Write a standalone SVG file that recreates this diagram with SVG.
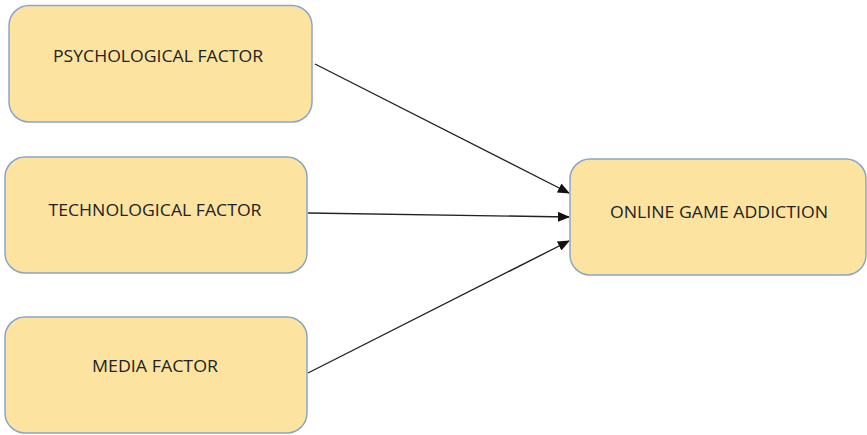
<svg xmlns="http://www.w3.org/2000/svg" width="867" height="435" viewBox="0 0 867 435">
<style>
.box{fill:#FCE3A0;stroke:#8AA6C6;stroke-width:1.5}
.lbl{font-family:"Open Sans","Liberation Sans",Arial,sans-serif;font-size:16px;fill:#222;text-anchor:middle;dominant-baseline:central}
.con{stroke:#222;stroke-width:1.4;fill:none;marker-end:url(#ah)}
</style>
<defs>
<marker id="ah" markerWidth="12" markerHeight="10" refX="11" refY="5" orient="auto" markerUnits="userSpaceOnUse">
<path d="M0,0 L12,5 L0,10 Z" fill="#111"/>
</marker>
</defs>
<rect width="867" height="435" fill="#fff"/>
<g id="connectors">
<line class="con" x1="315" y1="64" x2="569" y2="193"/>
<line class="con" x1="308" y1="213" x2="569" y2="217"/>
<line class="con" x1="308" y1="373" x2="569" y2="241"/>
</g>
<g id="psychological">
<rect class="box" x="9" y="5.5" width="303" height="116.5" rx="20"/>
<text class="lbl" x="158" y="56" textLength="210" lengthAdjust="spacingAndGlyphs">PSYCHOLOGICAL FACTOR</text>
</g>
<g id="technological">
<rect class="box" x="5" y="157" width="302" height="116" rx="20"/>
<text class="lbl" x="155" y="210" textLength="213" lengthAdjust="spacingAndGlyphs">TECHNOLOGICAL FACTOR</text>
</g>
<g id="media">
<rect class="box" x="5" y="317" width="302" height="116" rx="20"/>
<text class="lbl" x="155" y="366" textLength="126" lengthAdjust="spacingAndGlyphs">MEDIA FACTOR</text>
</g>
<g id="addiction">
<rect class="box" x="570" y="159" width="296" height="116" rx="20"/>
<text class="lbl" x="719" y="212" textLength="218" lengthAdjust="spacingAndGlyphs">ONLINE GAME ADDICTION</text>
</g>
</svg>
